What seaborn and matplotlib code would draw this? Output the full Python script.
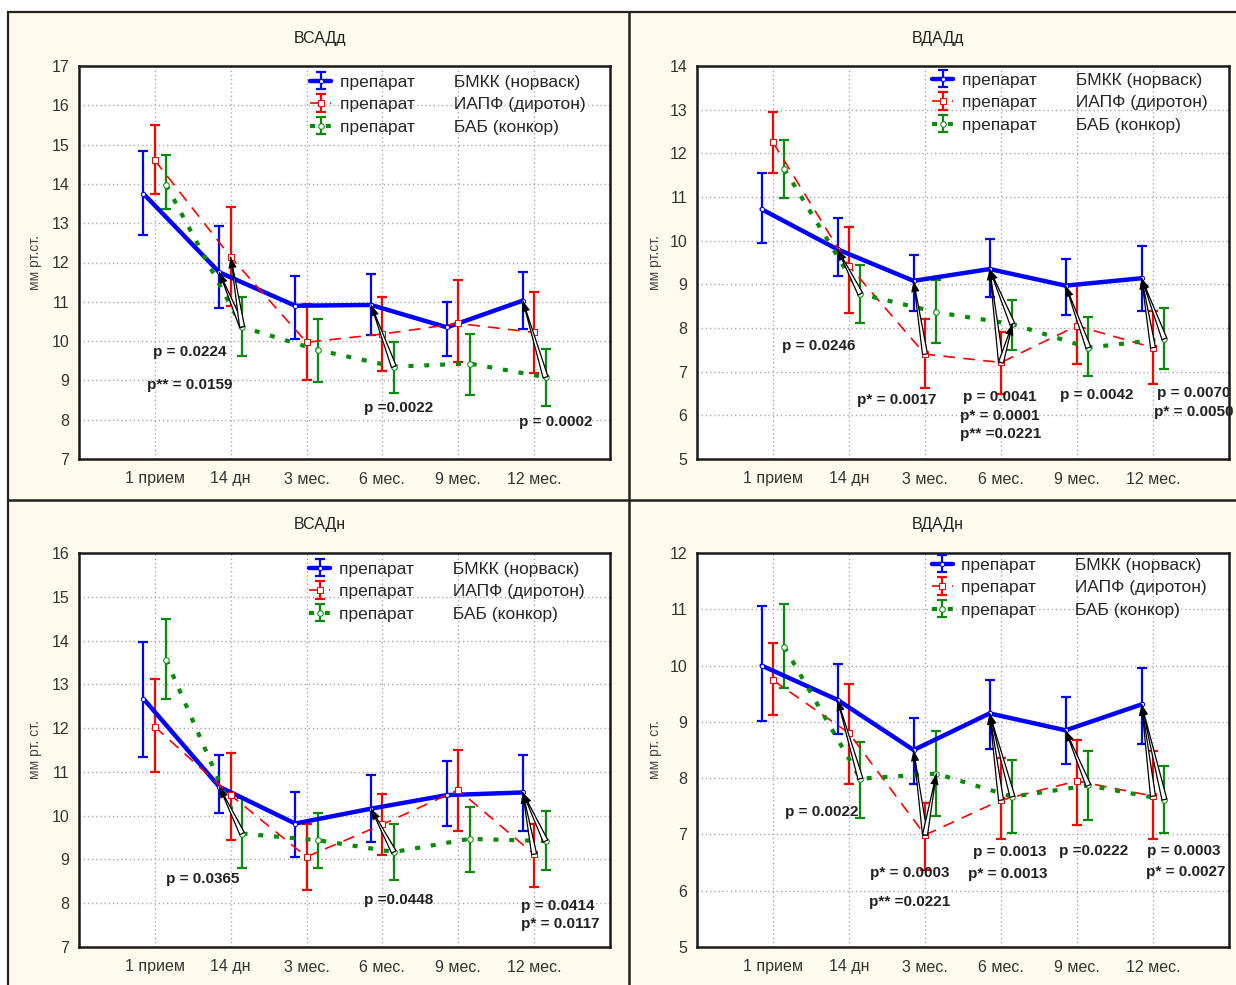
import numpy as np
import matplotlib
matplotlib.use("Agg")
import matplotlib.pyplot as plt
from matplotlib.patches import Rectangle
from matplotlib.lines import Line2D
from matplotlib.container import ErrorbarContainer
import seaborn as sns

sns.set_style("white")
plt.rcParams["font.family"] = ["Liberation Sans", "DejaVu Sans"]

# ---------------------------------------------------------------- data
timepoints = ["1 прием", "14 дн", "3 мес.", "6 мес.", "9 мес.", "12 мес."]
drug_groups = ["БМКК (норваск)", "ИАПФ (диротон)", "БАБ (конкор)"]

# ВСАДд
vsadd_bmkk_mean = [13.75, 11.75, 10.90, 10.92, 10.35, 11.03]
vsadd_bmkk_lo = [12.69, 10.83, 10.05, 10.15, 9.63, 10.32]
vsadd_bmkk_hi = [14.84, 12.92, 11.65, 11.70, 11.00, 11.76]
vsadd_iapf_mean = [14.60, 12.14, 9.97, 10.18, 10.45, 10.22]
vsadd_iapf_lo = [13.74, 10.90, 9.02, 9.25, 9.46, 9.18]
vsadd_iapf_hi = [15.50, 13.40, 10.94, 11.12, 11.55, 11.25]
vsadd_bab_mean = [13.97, 10.36, 9.77, 9.35, 9.43, 9.08]
vsadd_bab_lo = [13.36, 9.63, 8.97, 8.69, 8.63, 8.36]
vsadd_bab_hi = [14.73, 11.11, 10.56, 9.97, 10.18, 9.80]
vsadd_pvalues = ["p = 0.0224", "p** = 0.0159", "p =0.0022", "p = 0.0002"]

# ВДАДд
vdadd_bmkk_mean = [10.72, 9.80, 9.08, 9.35, 8.97, 9.14]
vdadd_bmkk_lo = [9.94, 9.19, 8.39, 8.70, 8.30, 8.39]
vdadd_bmkk_hi = [11.56, 10.51, 9.68, 10.03, 9.59, 9.88]
vdadd_iapf_mean = [12.25, 9.42, 7.40, 7.21, 8.05, 7.55]
vdadd_iapf_lo = [11.56, 8.34, 6.62, 6.49, 7.17, 6.72]
vdadd_iapf_hi = [12.95, 10.32, 8.20, 7.91, 8.99, 8.39]
vdadd_bab_mean = [11.64, 8.78, 8.36, 8.09, 7.55, 7.75]
vdadd_bab_lo = [10.97, 8.11, 7.65, 7.50, 6.91, 7.06]
vdadd_bab_hi = [12.30, 9.44, 9.10, 8.65, 8.26, 8.45]
vdadd_pvalues = ["p = 0.0246", "p* = 0.0017", "p = 0.0041", "p* = 0.0001",
                 "p** =0.0221", "p = 0.0042", "p = 0.0070", "p* = 0.0050"]

# ВСАДн
vsadn_bmkk_mean = [12.67, 10.66, 9.82, 10.16, 10.47, 10.53]
vsadn_bmkk_lo = [11.35, 10.05, 9.06, 9.40, 9.76, 9.65]
vsadn_bmkk_hi = [13.96, 11.39, 10.55, 10.94, 11.25, 11.39]
vsadn_iapf_mean = [12.03, 10.47, 9.06, 9.80, 10.59, 9.12]
vsadn_iapf_lo = [11.00, 9.45, 8.31, 9.11, 9.65, 8.37]
vsadn_iapf_hi = [13.12, 11.44, 9.82, 10.49, 11.49, 9.82]
vsadn_bab_mean = [13.56, 9.59, 9.44, 9.17, 9.47, 9.42]
vsadn_bab_lo = [12.67, 8.81, 8.81, 8.52, 8.71, 8.76]
vsadn_bab_hi = [14.49, 10.41, 10.05, 9.81, 10.20, 10.10]
vsadn_pvalues = ["p = 0.0365", "p =0.0448", "p = 0.0414", "p* = 0.0117"]

# ВДАДн
vdadn_bmkk_mean = [10.00, 9.39, 8.50, 9.15, 8.85, 9.31]
vdadn_bmkk_lo = [9.02, 8.78, 7.90, 8.51, 8.25, 8.60]
vdadn_bmkk_hi = [11.05, 10.02, 9.06, 9.75, 9.45, 9.95]
vdadn_iapf_mean = [9.74, 8.80, 6.99, 7.61, 7.95, 7.68]
vdadn_iapf_lo = [9.13, 7.90, 6.36, 6.91, 7.17, 6.91]
vdadn_iapf_hi = [10.40, 9.67, 7.56, 8.35, 8.67, 8.48]
vdadn_bab_mean = [10.33, 7.99, 8.08, 7.67, 7.87, 7.62]
vdadn_bab_lo = [9.60, 7.30, 7.33, 7.02, 7.26, 7.02]
vdadn_bab_hi = [11.10, 8.64, 8.84, 8.33, 8.48, 8.21]
vdadn_pvalues = ["p = 0.0022", "p* = 0.0003", "p** =0.0221", "p = 0.0013",
                 "p* = 0.0013", "p =0.0222", "p = 0.0003", "p* = 0.0027"]

# significant pairwise comparisons: (timepoint index, from group, to group)
vsadd_pairs = [(1, 2, 0), (1, 2, 1), (3, 2, 0), (5, 2, 0)]
vdadd_pairs = [(1, 2, 0), (2, 1, 0), (3, 1, 0), (3, 2, 0), (3, 1, 2),
               (4, 2, 0), (5, 2, 0), (5, 1, 0)]
vsadn_pairs = [(1, 2, 0), (3, 2, 0), (5, 1, 0), (5, 2, 0)]
vdadn_pairs = [(1, 2, 0), (2, 1, 0), (2, 1, 2), (3, 1, 0), (3, 2, 0),
               (4, 2, 0), (5, 1, 0), (5, 2, 0)]

# ---------------------------------------------------------------- layout
W, H = 1236, 985
fig = plt.figure(figsize=(W / 100, H / 100), dpi=100, facecolor="white")

CREAM = "#fffaee"
fig.patches.append(Rectangle((8 / W, -0.05), 1.1, 1 - 12 / H + 0.05,
                             transform=fig.transFigure, facecolor=CREAM,
                             edgecolor="#222222", lw=1.6, zorder=-10))
fig.lines.append(Line2D([629 / W, 629 / W], [0, 1 - 12 / H],
                        transform=fig.transFigure, color="#222222", lw=1.8,
                        zorder=-5))
fig.lines.append(Line2D([8 / W, 1], [1 - 500 / H, 1 - 500 / H],
                        transform=fig.transFigure, color="#222222", lw=1.8,
                        zorder=-5))

colors = ["#0000ff", "#ff0000", "#0a8a0a"]
offsets = [-0.15, 0.0, 0.15]
line_styles = [
    dict(lw=3.2, linestyle="-", marker="o", markersize=3,
         markerfacecolor="white", markeredgecolor="#0000ff"),
    dict(lw=1.2, linestyle=(0, (7, 5)), marker="s", markersize=5,
         markerfacecolor="white", markeredgecolor="#ff0000"),
    dict(lw=3.0, linestyle=(0, (1.2, 2.6)), marker="o", markersize=4,
         markerfacecolor="white", markeredgecolor="#0a8a0a"),
]

panels = [
    dict(title="ВСАДд", box=(79, 66, 610, 459), title_xy=(320, 38), ylim=(7, 17),
         ylabel="мм рт.ст.", ylabel_x=35,
         means=[vsadd_bmkk_mean, vsadd_iapf_mean, vsadd_bab_mean],
         los=[vsadd_bmkk_lo, vsadd_iapf_lo, vsadd_bab_lo],
         his=[vsadd_bmkk_hi, vsadd_iapf_hi, vsadd_bab_hi],
         pairs=vsadd_pairs, pvalues=vsadd_pvalues,
         pvalue_xy=[(1.46, 9.72), (1.46, 8.88), (4.21, 8.30), (6.29, 7.94)],
         legend_xy=(0.429, 0.987)),
    dict(title="ВДАДд", box=(697, 66, 1229, 459), title_xy=(938, 38), ylim=(5, 14),
         ylabel="мм рт.ст.", ylabel_x=655,
         means=[vdadd_bmkk_mean, vdadd_iapf_mean, vdadd_bab_mean],
         los=[vdadd_bmkk_lo, vdadd_iapf_lo, vdadd_bab_lo],
         his=[vdadd_bmkk_hi, vdadd_iapf_hi, vdadd_bab_hi],
         pairs=vdadd_pairs, pvalues=vdadd_pvalues,
         pvalue_xy=[(1.60, 7.59), (2.63, 6.35), (3.99, 6.42), (3.99, 5.99),
                    (3.99, 5.57), (5.26, 6.47), (6.53, 6.51), (6.53, 6.08)],
         legend_xy=(0.436, 0.992)),
    dict(title="ВСАДн", box=(79, 553, 610, 947), title_xy=(320, 525), ylim=(7, 16),
         ylabel="мм рт. ст.", ylabel_x=35,
         means=[vsadn_bmkk_mean, vsadn_iapf_mean, vsadn_bab_mean],
         los=[vsadn_bmkk_lo, vsadn_iapf_lo, vsadn_bab_lo],
         his=[vsadn_bmkk_hi, vsadn_iapf_hi, vsadn_bab_hi],
         pairs=vsadn_pairs, pvalues=vsadn_pvalues,
         pvalue_xy=[(1.63, 8.55), (4.21, 8.07), (6.31, 7.94), (6.34, 7.53)],
         legend_xy=(0.427, 0.987)),
    dict(title="ВДАДн", box=(697, 553, 1229, 947), title_xy=(938, 525), ylim=(5, 12),
         ylabel="мм рт. ст.", ylabel_x=655,
         means=[vdadn_bmkk_mean, vdadn_iapf_mean, vdadn_bab_mean],
         los=[vdadn_bmkk_lo, vdadn_iapf_lo, vdadn_bab_lo],
         his=[vdadn_bmkk_hi, vdadn_iapf_hi, vdadn_bab_hi],
         pairs=vdadn_pairs, pvalues=vdadn_pvalues,
         pvalue_xy=[(1.645, 7.40), (2.80, 6.32), (2.80, 5.80), (4.12, 6.69),
                    (4.09, 6.30), (5.22, 6.71), (6.41, 6.71), (6.43, 6.33)],
         legend_xy=(0.435, 0.997)),
]

x_base = np.arange(1, len(timepoints) + 1)
grid_kw = dict(color="#a8a8a8", lw=1.0, linestyle=(0, (1, 2)), zorder=0.5)

for p in panels:
    l, t, r, b = p["box"]
    ax = fig.add_axes([l / W, 1 - b / H, (r - l) / W, (b - t) / H], zorder=1)
    ax.set_facecolor("white")
    ax.set_xlim(0, 7)
    ax.set_ylim(*p["ylim"])
    yt = np.arange(p["ylim"][0], p["ylim"][1] + 1)
    ax.set_yticks(yt)
    ax.set_yticklabels([str(v) for v in yt])
    ax.set_xticks(x_base)
    ax.set_xticklabels(timepoints)
    for v in yt[1:-1]:
        ax.axhline(v, **grid_kw)
    for v in x_base:
        ax.axvline(v, **grid_kw)
    ax.tick_params(axis="both", length=0, labelsize=11.5, colors="#333333")
    ax.tick_params(axis="y", pad=7)
    ax.tick_params(axis="x", pad=9)
    for s in ax.spines.values():
        s.set_color("#1a1a1a")
        s.set_linewidth(1.8)

    handles = []
    for g in range(3):
        xs = x_base + offsets[g]
        m = np.array(p["means"][g])
        lo = np.array(p["los"][g])
        hi = np.array(p["his"][g])
        eb = ax.errorbar(xs, m, yerr=[m - lo, hi - m], fmt="none",
                         ecolor=colors[g], elinewidth=1.6, capsize=3.8,
                         capthick=1.6, zorder=2)
        sns.lineplot(x=xs, y=m, ax=ax, color=colors[g], sort=False,
                     legend=False, zorder=3, **line_styles[g])
        line = ax.lines[-1]
        handles.append(ErrorbarContainer((line, eb.lines[1], eb.lines[2]),
                                         has_xerr=False, has_yerr=True))

    # comparison arrows between group means at the same visit
    for ti, ga, gb in p["pairs"]:
        x0 = x_base[ti] + offsets[ga]
        y0 = p["means"][ga][ti]
        x1 = x_base[ti] + offsets[gb]
        y1 = p["means"][gb][ti]
        ax.annotate("", xy=(x1, y1), xytext=(x0, y0), zorder=4,
                    arrowprops=dict(arrowstyle="wedge,tail_width=0.4,shrink_factor=0.5",
                                    fc="white", ec="black", lw=0.9,
                                    shrinkA=0, shrinkB=0, mutation_scale=9))
        ax.annotate("", xy=(x1, y1), xytext=(x0, y0), zorder=5,
                    arrowprops=dict(arrowstyle="-|>,head_length=0.8,head_width=0.3",
                                    fc="black", ec="black", lw=0.01,
                                    shrinkA=0, shrinkB=0, mutation_scale=10))

    for txt, (tx, ty) in zip(p["pvalues"], p["pvalue_xy"]):
        ax.text(tx, ty, txt, ha="center", va="center", fontsize=11,
                fontweight="bold", color="#222222", zorder=6, clip_on=False)

    labels = ["препарат        " + g for g in drug_groups]
    ax.legend(handles, labels, loc="upper left",
              bbox_to_anchor=p["legend_xy"], frameon=False,
              fontsize=12.5, handlelength=1.2, handletextpad=0.5,
              labelspacing=0.42, borderaxespad=0.0, borderpad=0.2)

    fig.text(p["title_xy"][0] / W, 1 - p["title_xy"][1] / H, p["title"],
             ha="center", va="center", fontsize=11.5, color="#222222")
    fig.text(p["ylabel_x"] / W, 1 - ((t + b) / 2) / H, p["ylabel"],
             ha="center", va="center", rotation=90, fontsize=10,
             color="#444444")

fig.savefig("out.png", dpi=100, facecolor=fig.get_facecolor())
